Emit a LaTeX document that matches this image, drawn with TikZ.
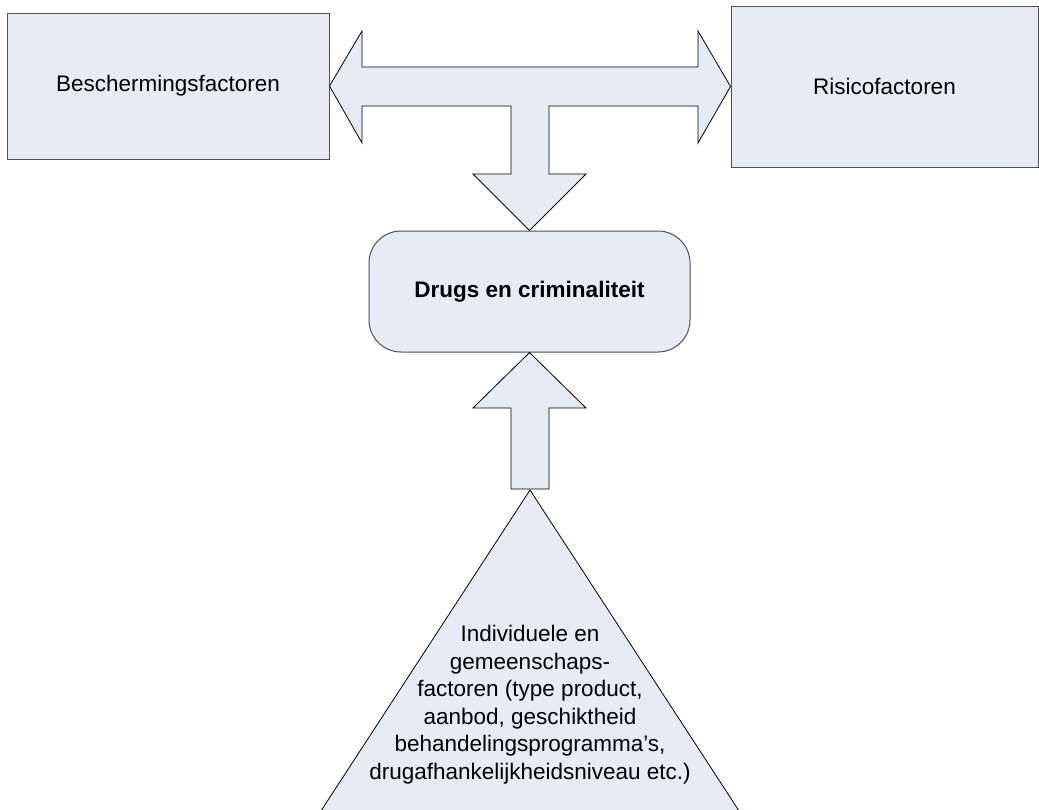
\documentclass[tikz,border=0pt]{standalone}
\usepackage{fontspec}
\setmainfont{Liberation Sans}
\definecolor{boxfill}{RGB}{230,236,246}
\definecolor{boxline}{RGB}{80,80,80}
\tikzset{
  box/.style={draw=boxline, fill=boxfill, line width=1pt, inner sep=0pt, align=center,
    font=\fontsize{22.5}{27.5}\selectfont},
  blockarrow/.style={draw=black, fill=boxfill, line width=0.8pt, line join=miter},
  lbl/.style={inner sep=0pt, align=center, font=\fontsize{22.5}{27.5}\selectfont}
}
\begin{document}
\begin{tikzpicture}[x=1pt,y=-1pt]
\useasboundingbox (0,0) rectangle (1039,809);
\clip (0,0) rectangle (1039,809);
% boxes
\node[box, minimum width=322pt, minimum height=146pt] (bes) at (168,86) {Beschermingsfactoren};
\node[box, minimum width=307pt, minimum height=161pt] (ris) at (884.5,86.5) {Risicofactoren};
\node[box, minimum width=321pt, minimum height=121pt, rounded corners=32pt] (drugs) at (529.5,291.5) {\bfseries Drugs en criminaliteit};
% combined double arrow with downward stem
\draw[blockarrow] (bes.east) -- (362,31) -- (362,67) -- (698,67) -- (698,31) -- (ris.west)
  -- (698,143) -- (698,106) -- (549,106) -- (549,174) -- (586,174) -- (drugs.north)
  -- (473,174) -- (511,174) -- (511,106) -- (362,106) -- (362,143) -- cycle;
% triangle
\coordinate (apex) at (530,490);
\draw[blockarrow] (apex) -- (302,840) -- (758,840) -- cycle;
% up arrow
\draw[blockarrow] (drugs.south) -- (586,408) -- (549,408) -- (549,489) -- (511,489) -- (511,408) -- (473,408) -- cycle;
\node[lbl] (ind) at (530,704.5) {Individuele en\\gemeenschaps-\\factoren (type product,\\aanbod, geschiktheid\\behandelingsprogramma’s,\\drugafhankelijkheidsniveau etc.)};
\end{tikzpicture}
\end{document}
